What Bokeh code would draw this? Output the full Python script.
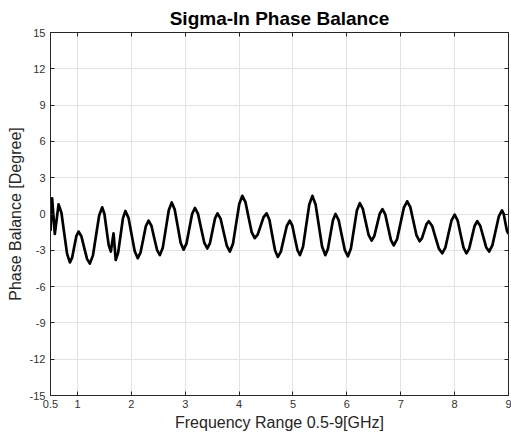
from bokeh.plotting import figure
from bokeh.models import LinearAxis, FixedTicker, Range1d
from bokeh.embed import file_html
from bokeh.resources import INLINE

freq = [0.50, 0.53, 0.58, 0.65, 0.703, 0.755, 0.808, 0.86, 0.90, 0.94, 0.98, 1.02,
        1.073, 1.125, 1.178, 1.23, 1.288, 1.345, 1.403, 1.46, 1.50, 1.54, 1.58, 1.62,
        1.67, 1.71, 1.755, 1.80, 1.845, 1.89, 1.948, 2.005, 2.063, 2.12, 2.17, 2.22,
        2.27, 2.32, 2.373, 2.425, 2.478, 2.53, 2.585, 2.64, 2.695, 2.75, 2.805, 2.86,
        2.915, 2.97, 3.023, 3.075, 3.128, 3.18, 3.238, 3.295, 3.353, 3.41, 3.458, 3.505,
        3.553, 3.60, 3.658, 3.715, 3.773, 3.83, 3.888, 3.945, 4.003, 4.06, 4.118, 4.175,
        4.233, 4.29, 4.345, 4.40, 4.455, 4.51, 4.563, 4.615, 4.668, 4.72, 4.775, 4.83,
        4.885, 4.94, 4.988, 5.035, 5.083, 5.13, 5.188, 5.245, 5.303, 5.36, 5.42, 5.48,
        5.54, 5.60, 5.648, 5.695, 5.743, 5.79, 5.848, 5.905, 5.963, 6.02, 6.075, 6.13,
        6.185, 6.24, 6.295, 6.35, 6.405, 6.46, 6.51, 6.56, 6.61, 6.66, 6.713, 6.765,
        6.818, 6.87, 6.933, 6.995, 7.058, 7.12, 7.178, 7.235, 7.293, 7.35, 7.393, 7.435,
        7.478, 7.52, 7.583, 7.645, 7.708, 7.77, 7.828, 7.885, 7.943, 8.00, 8.055, 8.11,
        8.165, 8.22, 8.27, 8.32, 8.37, 8.42, 8.475, 8.53, 8.585, 8.64, 8.70, 8.76,
        8.82, 8.88, 8.91, 8.94, 8.97, 9.00]

phase = [-1.4, 1.3, -1.65, 0.8, 0.10, -1.6, -3.30, -4.0, -3.63, -2.73, -1.82, -1.45,
         -1.84, -2.78, -3.71, -4.1, -3.42, -1.78, -0.13, 0.55, 0.02, -1.28, -2.57, -3.1,
         -1.6, -3.8, -3.21, -1.78, -0.34, 0.25, -0.32, -1.70, -3.08, -3.65, -3.20, -2.10,
         -1.00, -0.55, -0.97, -1.98, -2.98, -3.4, -2.76, -1.23, 0.31, 0.95, 0.38, -1.0,
         -2.38, -2.95, -2.45, -1.23, 0.0, 0.5, 0.01, -1.18, -2.36, -2.85, -2.43, -1.40,
         -0.37, 0.05, -0.41, -1.53, -2.64, -3.1, -2.43, -0.8, 0.83, 1.5, 0.99, -0.25,
         -1.49, -2.0, -1.70, -0.98, -0.25, 0.05, -0.48, -1.75, -3.02, -3.55, -3.11, -2.05,
         -0.99, -0.55, -0.97, -1.98, -2.98, -3.4, -2.68, -0.95, 0.78, 1.5, 0.78, -0.95,
         -2.68, -3.4, -2.90, -1.70, -0.50, 0.0, -0.51, -1.75, -2.99, -3.5, -2.86, -1.3,
         0.26, 0.9, 0.45, -0.65, -1.75, -2.2, -1.82, -0.9, 0.02, 0.4, -0.04, -1.1,
         -2.16, -2.6, -2.07, -0.78, 0.52, 1.05, 0.57, -0.6, -1.77, -2.25, -2.01, -1.43,
         -0.84, -0.6, -0.99, -1.93, -2.86, -3.25, -2.78, -1.65, -0.52, -0.05, -0.52, -1.65,
         -2.78, -3.25, -2.86, -1.93, -0.99, -0.6, -0.97, -1.85, -2.74, -3.1, -2.60, -1.4,
         -0.20, 0.3, 0.02, -0.68, -1.37, -1.65]

assert len(freq) == len(phase), (len(freq), len(phase))

x_ticks = [0.5, 1, 2, 3, 4, 5, 6, 7, 8, 9]
x_tick_labels = ["0.5", "1", "2", "3", "4", "5", "6", "7", "8", "9"]
y_ticks = [-15, -12, -9, -6, -3, 0, 3, 6, 9, 12, 15]
y_tick_labels = ["-15", "-12", "-9", "-6", "-3", "0", "3", "6", "9", "12", "15"]

FONT = "Liberation Sans"
AX = "#262626"

p = figure(width=511, height=440, output_backend="svg", toolbar_location=None,
           x_range=Range1d(0.5, 9), y_range=Range1d(-15, 15),
           min_border_left=50, min_border_right=3, min_border_top=32, min_border_bottom=45)

p.title.text = "Sigma-In Phase Balance"
p.title.text_font = FONT
p.title.text_font_size = "19px"
p.title.text_font_style = "bold"
p.title.text_color = "black"
p.title.align = "center"
p.title.standoff = 8

p.outline_line_color = AX
p.outline_line_width = 1
p.background_fill_color = "white"
p.border_fill_color = "white"

p.line(freq, phase, line_color="black", line_width=2.7, line_join="round")

def style_axis(ax, ticks, labels, show_labels=True):
    ax.ticker = FixedTicker(ticks=ticks)
    ax.major_tick_in = 4
    ax.major_tick_out = 0
    ax.minor_tick_in = 0
    ax.minor_tick_out = 0
    ax.minor_tick_line_color = None
    ax.axis_line_color = AX
    ax.major_tick_line_color = AX
    ax.major_label_text_font = FONT
    ax.major_label_text_color = "#333333"
    ax.axis_label_text_font = FONT
    ax.axis_label_text_font_style = "normal"
    ax.axis_label_text_color = AX
    ax.axis_label_text_font_size = "16px"
    ax.major_label_text_font_size = "11px"
    if show_labels:
        ax.major_label_overrides = {t: l for t, l in zip(ticks, labels)}
    else:
        ax.major_label_overrides = {t: "" for t in ticks}
        ax.major_label_standoff = 0

style_axis(p.xaxis[0], x_ticks, x_tick_labels)
style_axis(p.yaxis[0], y_ticks, y_tick_labels)
p.xaxis[0].axis_label = "Frequency Range 0.5-9[GHz]"
p.xaxis[0].major_label_standoff = 4
p.xaxis[0].axis_label_standoff = 3
p.yaxis[0].axis_label = "Phase Balance [Degree]"
p.yaxis[0].major_label_standoff = 5
p.yaxis[0].axis_label_standoff = 3

top_ax = LinearAxis()
right_ax = LinearAxis()
style_axis(top_ax, x_ticks, x_tick_labels, show_labels=False)
style_axis(right_ax, y_ticks, y_tick_labels, show_labels=False)
p.add_layout(top_ax, "above")
p.add_layout(right_ax, "right")

p.xgrid[0].ticker = FixedTicker(ticks=x_ticks)
p.ygrid[0].ticker = FixedTicker(ticks=y_ticks)
p.xgrid.grid_line_color = "#e3e3e3"
p.ygrid.grid_line_color = "#e3e3e3"
p.xgrid.grid_line_width = 1
p.ygrid.grid_line_width = 1

open("out.html", "w").write(file_html(p, INLINE))
